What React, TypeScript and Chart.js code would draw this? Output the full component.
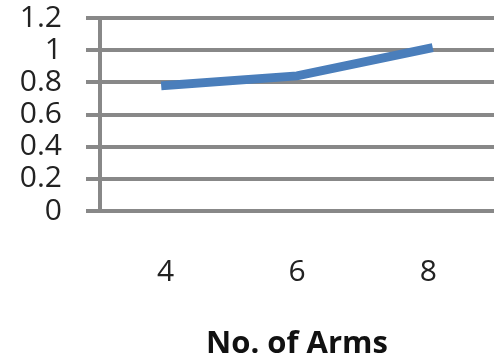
import React, { useEffect, useRef } from "react";
import { Chart, registerables } from "chart.js";

Chart.register(...registerables);

const categories: string[] = ["4", "6", "8"];
const seriesValues: number[] = [0.78, 0.84, 1.01];
const yTickMin = 0;
const yTickMax = 1.2;
const yTickStep = 0.2;
const xAxisTitle = "No. of Arms";

export default function App() {
  const canvasRef = useRef<HTMLCanvasElement | null>(null);

  useEffect(() => {
    if (!canvasRef.current) return;
    const chart = new Chart(canvasRef.current, {
      type: "line",
      data: {
        labels: categories,
        datasets: [
          {
            data: seriesValues,
            borderColor: "#4a7ebb",
            borderWidth: 9,
            pointRadius: 0,
            tension: 0,
            borderCapStyle: "square",
            fill: false,
          },
        ],
      },
      options: {
        responsive: false,
        animation: false,
        layout: { padding: { top: 18, left: 0, right: 0, bottom: 0 } },
        plugins: { legend: { display: false }, tooltip: { enabled: false } },
        scales: {
          x: {
            offset: true,
            grid: { display: false, drawTicks: false },
            border: { display: false },
            ticks: {
              padding: 43,
              color: "#222",
              font: { family: "'Open Sans'", size: 30 },
              maxRotation: 0,
              autoSkip: false,
            },
            title: {
              display: true,
              text: xAxisTitle,
              color: "#111",
              font: { family: "'Open Sans'", size: 31, weight: "bold" },
              padding: { top: 0, bottom: 0 },
            },
            afterFit: (scale: any) => {
              scale.height = 152;
              scale.paddingLeft = 0;
              scale.paddingRight = 0;
              scale.paddingTop = 0;
              scale.paddingBottom = 0;
            },
          },
          y: {
            min: yTickMin,
            max: yTickMax,
            grid: { color: "#888", lineWidth: 4, tickLength: 14 },
            border: { color: "#888", width: 4 },
            ticks: {
              stepSize: yTickStep,
              padding: 24,
              autoSkip: false,
              color: "#222",
              font: { family: "'Open Sans'", size: 30, lineHeight: 1 },
              callback: (v: any) => String(Math.round(Number(v) * 10) / 10),
            },
            afterFit: (scale: any) => {
              scale.width = 100;
              scale.paddingLeft = 0;
              scale.paddingRight = 0;
              scale.paddingTop = 0;
              scale.paddingBottom = 0;
            },
          },
        },
      },
    });
    return () => chart.destroy();
  }, []);

  return (
    <div style={{ position: "absolute", left: 0, top: 0, width: 494, height: 363, background: "#fff" }}>
      <canvas ref={canvasRef} width={494} height={363} style={{ width: 494, height: 363 }} />
    </div>
  );
}
